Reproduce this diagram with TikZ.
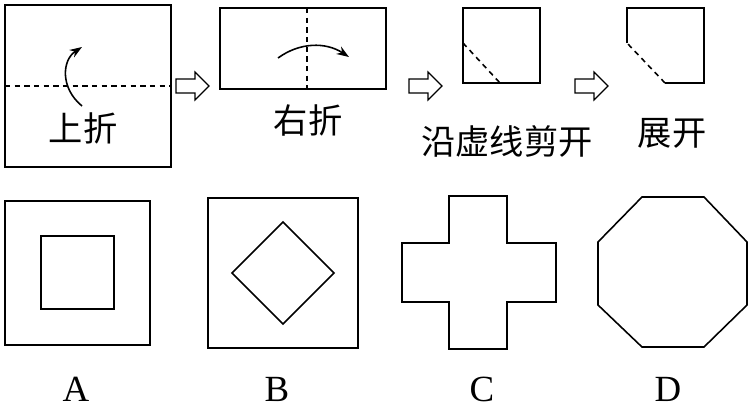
\documentclass[tikz,border=0pt]{standalone}
\usepackage{fontspec}
\setmainfont{Liberation Serif}
\newfontfamily\cjk{Noto Sans CJK SC}
\usetikzlibrary{arrows.meta}

\begin{document}
\begin{tikzpicture}[x=0.02cm, y=-0.02cm, >={Stealth[length=7pt,width=5pt]}, line width=0.9pt,
    cut/.style={dash pattern=on 3pt off 2.5pt},
    lbl/.style={font=\cjk\fontsize{19.5}{19.5}\selectfont, inner sep=0pt},
    opt/.style={font=\fontsize{21}{21}\selectfont, inner sep=0pt}]
  \useasboundingbox (0,0) rectangle (750,409);

  % step 1: fold up
  \draw (5,5) rectangle (171,167);
  \draw[cut] (5,86) -- (171,86);
  \draw[->] (82,106) .. controls (60,88) and (62,60) .. (82,47);
  \node[lbl] (fold1) at (83,128) {上折};

  % step 2: fold right
  \draw (220,8) rectangle (386,89);
  \draw[cut] (307,8) -- (307,89);
  \draw[->] (278,58) .. controls (300,42) and (326,42) .. (349,57);
  \node[lbl] (fold2) at (308,120) {右折};

  % step 3: cut
  \draw (463,8) rectangle (540,83);
  \draw[cut] (463,43) -- (500,83);
  \node[lbl] (cut) at (507,141) {沿虚线剪开};

  % step 4: open
  \draw (627,43) -- (627,8) -- (704,8) -- (704,83) -- (665,83);
  \draw[cut] (665,83) -- (627,43);
  \node[lbl] (open) at (672,133) {展开};

  % hollow arrows between steps
  \foreach \ax in {176,409,575}
    \draw[line width=0.7pt] (\ax,79) -- (\ax+19,79) -- (\ax+19,72) -- (\ax+33,86)
      -- (\ax+19,100) -- (\ax+19,93) -- (\ax,93) -- cycle;

  % choice A
  \draw (5,201) rectangle (150,345);
  \draw (41,236) rectangle (114,309);
  \node[opt] (optA) at (76,389) {A};

  % choice B
  \draw (208,198) rectangle (358,348);
  \draw (283,222) -- (334,273) -- (283,324) -- (232,273) -- cycle;
  \node[opt] (optB) at (277,389) {B};

  % choice C
  \draw (449,196) -- (507,196) -- (507,243) -- (556,243) -- (556,302) -- (507,302)
    -- (507,349) -- (449,349) -- (449,302) -- (402,302) -- (402,243) -- (449,243) -- cycle;
  \node[opt] (optC) at (482,389) {C};

  % choice D
  \draw (642,197) -- (704,197) -- (747,242) -- (747,305) -- (704,347) -- (642,347)
    -- (598,305) -- (598,242) -- cycle;
  \node[opt] (optD) at (668,389) {D};
\end{tikzpicture}
\end{document}
